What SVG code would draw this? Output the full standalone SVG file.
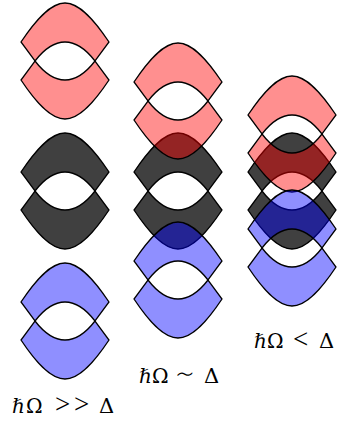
<svg xmlns="http://www.w3.org/2000/svg" xmlns:xlink="http://www.w3.org/1999/xlink" width="344" height="423" viewBox="0 0 344 423">
<style>
.b{stroke:#000;stroke-width:1.3;stroke-linejoin:miter}
.red{fill:rgb(255,0,0);fill-opacity:0.44}
.blk{fill:#000;fill-opacity:0.75}
.blu{fill:rgb(0,0,255);fill-opacity:0.44}
.lbl{font-family:"DejaVu Serif","Liberation Serif",serif;font-size:20px;fill:#000}
.it{font-style:italic}
.rel{font-family:"Liberation Serif","DejaVu Serif",serif;font-size:27px}
.sim{font-family:"DejaVu Sans",sans-serif;font-size:31px;font-weight:200}
.d{font-size:21px}
</style>
<defs>
<path id="up" d="M -44,-19 C -30,-40 -15,-58 0,-58 C 15,-58 30,-40 44,-19 L 30,0 C 20,-13 10,-19 0,-19 C -10,-19 -20,-13 -30,0 Z"/>
<path id="dn" d="M -44,19 C -30,40 -15,58 0,58 C 15,58 30,40 44,19 L 30,0 C 20,13 10,19 0,19 C -10,19 -20,13 -30,0 Z"/>
</defs>
<rect width="344" height="423" fill="#fff"/>
<g id="connectors"/>
<g id="col1-black"><use xlink:href="#up" class="b blk" transform="translate(65,191)"/><use xlink:href="#dn" class="b blk" transform="translate(65,191)"/></g>
<g id="col1-red"><use xlink:href="#up" class="b red" transform="translate(65,61)"/><use xlink:href="#dn" class="b red" transform="translate(65,61)"/></g>
<g id="col1-blue"><use xlink:href="#up" class="b blu" transform="translate(65,321)"/><use xlink:href="#dn" class="b blu" transform="translate(65,321)"/></g>
<g id="col2-black"><use xlink:href="#up" class="b blk" transform="translate(178,191)"/><use xlink:href="#dn" class="b blk" transform="translate(178,191)"/></g>
<g id="col2-red"><use xlink:href="#up" class="b red" transform="translate(178,101)"/><use xlink:href="#dn" class="b red" transform="translate(178,101)"/></g>
<g id="col2-blue"><use xlink:href="#up" class="b blu" transform="translate(178,280)"/><use xlink:href="#dn" class="b blu" transform="translate(178,280)"/></g>
<g id="col3-black"><use xlink:href="#up" class="b blk" transform="translate(292,191)"/><use xlink:href="#dn" class="b blk" transform="translate(292,191)"/></g>
<g id="col3-red"><use xlink:href="#up" class="b red" transform="translate(292,134)"/><use xlink:href="#dn" class="b red" transform="translate(292,134)"/></g>
<g id="col3-blue"><use xlink:href="#up" class="b blu" transform="translate(292,248)"/><use xlink:href="#dn" class="b blu" transform="translate(292,248)"/></g>
<g id="label1"><text class="lbl" y="413"><tspan class="it" x="12">ℏ</tspan><tspan x="26">Ω</tspan><tspan class="rel" x="55">&gt;</tspan><tspan class="rel" x="74">&gt;</tspan><tspan class="d" x="99">Δ</tspan></text></g>
<g id="label2"><text class="lbl" y="383"><tspan class="it" x="139">ℏ</tspan><tspan x="152">Ω</tspan><tspan class="sim" x="175" dy="2">∼</tspan><tspan class="d" x="204" dy="-2">Δ</tspan></text></g>
<g id="label3"><text class="lbl" y="348"><tspan class="it" x="254">ℏ</tspan><tspan x="267">Ω</tspan><tspan class="rel" x="293">&lt;</tspan><tspan class="d" x="319">Δ</tspan></text></g>
</svg>
